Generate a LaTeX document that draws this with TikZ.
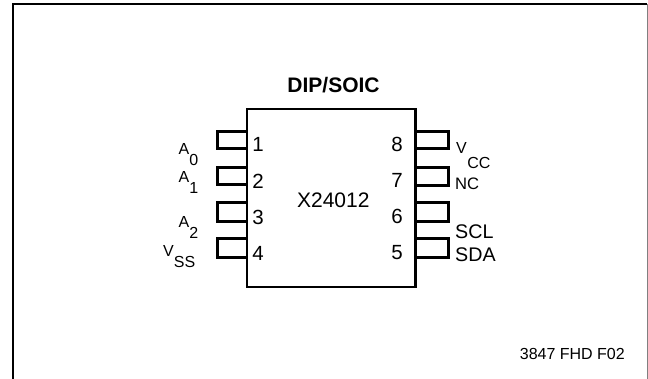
\documentclass[tikz,border=0pt]{standalone}
\usepackage{fontspec}
\setmainfont{Liberation Sans}
\newcommand{\fs}[1]{\fontsize{#1pt}{#1pt}\selectfont}
\newcommand{\sublab}[4]{#1\kern#3pt\raisebox{-#4pt}{#2}}
\tikzset{
  chipbox/.style={draw=black,line width=2.7pt,minimum width=168.5pt,minimum height=178pt,inner sep=0pt},
  pinbox/.style={draw=black,line width=3pt,minimum width=30pt,inner sep=0pt},
  num/.style={font=\fs{20.5},inner sep=0pt,anchor=center},
  lab/.style={font=\fs{16},inner sep=0pt,anchor=base west}
}
\begin{document}
\begin{tikzpicture}[x=1pt,y=-1pt]
\useasboundingbox (0,0) rectangle (648,379);
\coordinate (fbl) at (12.5,379);
\coordinate (ftl) at (12.5,4.5);
\coordinate (ftr) at (647,4.5);
\coordinate (fbr) at (647,379);
\draw[black,line width=2pt] (fbl) -- (ftl) -- (ftr);
\draw[black!50,line width=1pt] (ftr) -- (fbr);
% pins
\node[pinbox,minimum height=17pt] (p1) at (232,140.5) {};
\node[pinbox,minimum height=17pt] (p2) at (232,176.5) {};
\node[pinbox,minimum height=19pt] (p3) at (232,212.5) {};
\node[pinbox,minimum height=19pt] (p4) at (232,248.5) {};
\node[pinbox,minimum height=17pt,minimum width=32.5pt] (p8) at (432,140.5) {};
\node[pinbox,minimum height=18pt,minimum width=32.5pt] (p7) at (432,177) {};
\node[pinbox,minimum height=19pt,minimum width=32.5pt] (p6) at (432,212.5) {};
\node[pinbox,minimum height=19pt,minimum width=32.5pt] (p5) at (432,248.5) {};
\node[chipbox,fill=white] (chip) at (331.25,198) {};
\node[num] (n1) at (258,144) {1};
\node[num] (n2) at (258,181) {2};
\node[num] (n3) at (258,217) {3};
\node[num] (n4) at (258,253) {4};
\node[num] (n8) at (397,144.5) {8};
\node[num] (n7) at (397,180.5) {7};
\node[num] (n6) at (397,216.5) {6};
\node[num] (n5) at (397,252.5) {5};
\node[font=\fs{21},inner sep=0pt,anchor=base] (part) at (333.3,208) {X24012};
\node[font=\fs{21}\bfseries,inner sep=0pt,anchor=base] (title) at (333.5,92.6) {DIP/SOIC};
\node[lab] (a0) at (178.5,154.3) {\sublab{A}{0}{0}{11.7}};
\node[lab] (a1) at (178.5,183) {\sublab{A}{1}{0}{11}};
\node[lab] (a2) at (178.5,228) {\sublab{A}{2}{0}{11}};
\node[lab] (vss) at (163,256.7) {\sublab{V}{SS}{0}{10.5}};
\node[lab] (vcc) at (456,153.3) {\sublab{V}{CC}{0.5}{15}};
\node[lab,font=\fs{16.6}] (nc) at (455,190) {NC};
\node[lab,font=\fs{19.7}] (scl) at (455,239) {SCL};
\node[lab,font=\fs{19.7}] (sda) at (455,262) {SDA};
\node[font=\fs{16},inner sep=0pt,anchor=base east] (ref) at (625,359.3) {3847 FHD F02};
\end{tikzpicture}
\end{document}
